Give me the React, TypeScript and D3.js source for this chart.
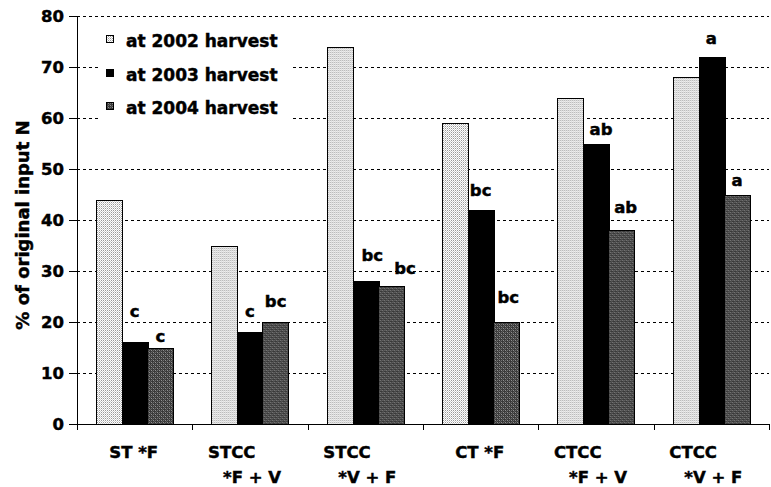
import React from "react";
import * as d3 from "d3";

const categories = ["ST *F", "STCC *F + V", "STCC *V + F", "CT *F", "CTCC *F + V", "CTCC *V + F"];
const labelLine1 = ["ST *F", "STCC", "STCC", "CT *F", "CTCC", "CTCC"];
const labelLine2 = ["", "*F + V", "*V + F", "", "*F + V", "*V + F"];
const seriesNames = ["at 2002 harvest", "at 2003 harvest", "at 2004 harvest"];
const harvest2002 = [44, 35, 74, 59, 64, 68];
const harvest2003 = [16, 18, 28, 42, 55, 72];
const harvest2004 = [15, 20, 27, 20, 38, 45];
const letters2003 = ["c", "c", "bc", "bc", "ab", "a"];
const letters2004 = ["c", "bc", "bc", "bc", "ab", "a"];
// height (in % units) where each significance letter sits
const letterLevel2003 = [21.0, 21.0, 32.0, 44.7, 56.7, 74.6];
const letterLevel2004 = [16.0, 22.9, 29.4, 23.8, 41.3, 46.7];
const yTicks = [0, 10, 20, 30, 40, 50, 60, 70, 80];

const W = 771;
const H = 487;
const M = { left: 77, right: 2, top: 16, bottom: 63 };
const FONT = "'DejaVu Sans', 'Liberation Sans', Arial, sans-serif";
const fills = ["url(#p2002)", "#000", "url(#p2004)"];
const TS = { stroke: "#000", strokeWidth: 0.45 };

export default function App() {
  const x0 = d3.scaleBand<string>().domain(categories).range([M.left, W - M.right]).padding(0);
  const bw = x0.bandwidth();
  const x1 = d3.scaleBand<string>().domain(seriesNames).range([bw / 6, (bw * 5) / 6]).padding(0);
  const y = d3.scaleLinear().domain([0, 80]).range([H - M.bottom, M.top]);
  const values = [harvest2002, harvest2003, harvest2004];
  const nudge: Record<string, number> = { "2-1": 7, "2-2": 14, "3-2": 2, "4-1": 5, "4-2": 4 };

  const yBase = y(0);
  const xEnd = W - M.right;

  return (
    <svg width={W} height={H} style={{ position: "absolute", left: 0, top: 0, background: "#fff" }} fontFamily={FONT}>
      <defs>
        <pattern id="p2002" width={2} height={2} patternUnits="userSpaceOnUse">
          <rect width={2} height={2} fill="#fff" />
          <rect x={0} y={0} width={1} height={1} fill="#9a9a9a" />
          <rect x={1} y={1} width={1} height={1} fill="#cfcfcf" />
        </pattern>
        <pattern id="p2004" width={4} height={4} patternUnits="userSpaceOnUse">
          <rect width={4} height={4} fill="#3a3a3a" />
          <rect x={0} y={0} width={1} height={1} fill="#909090" />
          <rect x={2} y={2} width={1} height={1} fill="#909090" />
          <rect x={2} y={0} width={1} height={1} fill="#707070" />
          <rect x={0} y={2} width={1} height={1} fill="#707070" />
          <rect x={1} y={1} width={1} height={1} fill="#5a5a5a" />
          <rect x={3} y={3} width={1} height={1} fill="#5a5a5a" />
        </pattern>
      </defs>

      {/* gridlines */}
      {yTicks.filter((t) => t > 0).map((t) => (
        <line key={t} x1={M.left} x2={xEnd} y1={Math.round(y(t)) + 0.5} y2={Math.round(y(t)) + 0.5}
          stroke="#000" strokeWidth={1} strokeDasharray="3 3" shapeRendering="crispEdges" />
      ))}

      {/* bars */}
      {categories.map((c, i) => (
        <g key={c} transform={`translate(${x0(c)},0)`}>
          {seriesNames.map((s, j) => {
            const v = values[j][i];
            const bx = x1(s)!;
            return (
              <rect key={s} x={Math.round(bx) + 0.5} y={Math.round(y(v)) + 0.5} width={Math.round(x1.bandwidth())}
                height={Math.round(yBase) - Math.round(y(v))} fill={fills[j]} stroke="#000" strokeWidth={1}
                shapeRendering="crispEdges" />
            );
          })}
        </g>
      ))}

      {/* significance letters */}
      {categories.map((c, i) => (
        <g key={"l" + c} fontWeight="bold" fontSize={16.5} textAnchor="middle" {...TS}>
          {[
            { s: seriesNames[1], t: letters2003[i], lv: letterLevel2003[i], k: `${i}-1` },
            { s: seriesNames[2], t: letters2004[i], lv: letterLevel2004[i], k: `${i}-2` },
          ].map((d) => (
            <text key={d.k} x={x0(c)! + x1(d.s)! + x1.bandwidth() / 2 + (nudge[d.k] || 0)} y={y(d.lv)}>
              {d.t}
            </text>
          ))}
        </g>
      ))}

      {/* axes */}
      <line x1={M.left + 0.5} x2={M.left + 0.5} y1={y(80)} y2={yBase + 1} stroke="#000" strokeWidth={1} shapeRendering="crispEdges" />
      <line x1={M.left} x2={xEnd} y1={Math.round(yBase) + 0.5} y2={Math.round(yBase) + 0.5} stroke="#000" strokeWidth={1} shapeRendering="crispEdges" />
      {yTicks.map((t) => (
        <g key={"yt" + t}>
          <line x1={M.left - 8} x2={M.left} y1={Math.round(y(t)) + 0.5} y2={Math.round(y(t)) + 0.5} stroke="#000" shapeRendering="crispEdges" />
          <text x={M.left - 13} y={y(t) + 6} textAnchor="end" fontWeight="bold" fontSize={16.5} {...TS}>{t}</text>
        </g>
      ))}
      {[...categories.map((c) => x0(c)!), xEnd - 0.5].map((xv, i) => (
        <line key={"xt" + i} x1={Math.round(xv) + 0.5} x2={Math.round(xv) + 0.5} y1={yBase} y2={yBase + 6} stroke="#000" shapeRendering="crispEdges" />
      ))}

      {/* x labels */}
      {categories.map((c, i) => {
        const cx = x0(c)! + bw / 2;
        return (
          <g key={"xl" + c} fontWeight="bold" fontSize={16.5} {...TS}>
            {labelLine2[i] === "" ? (
              <text x={cx - 1} y={458} textAnchor="middle">{labelLine1[i]}</text>
            ) : (
              <>
                <text x={cx - 42} y={458} textAnchor="start">{labelLine1[i]}</text>
                <text x={cx - 27} y={483} textAnchor="start">{labelLine2[i]}</text>
              </>
            )}
          </g>
        );
      })}

      {/* y title */}
      <text transform={`translate(29,${(y(0) + y(80)) / 2 + 5}) rotate(-90)`} textAnchor="middle" fontWeight="bold" fontSize={18} {...TS}>
        % of original input N
      </text>

      {/* legend */}
      <rect x={100} y={21} width={193} height={103} fill="#fff" />
      {seriesNames.map((s, j) => (
        <g key={"lg" + s} transform={`translate(0,${j * 33.5})`}>
          <rect x={106.5} y={35.5} width={7} height={7} fill={fills[j]} stroke="#000" strokeWidth={1} shapeRendering="crispEdges" />
          <text x={126} y={47.3} fontWeight="bold" fontSize={17} {...TS}>{s}</text>
        </g>
      ))}
    </svg>
  );
}
